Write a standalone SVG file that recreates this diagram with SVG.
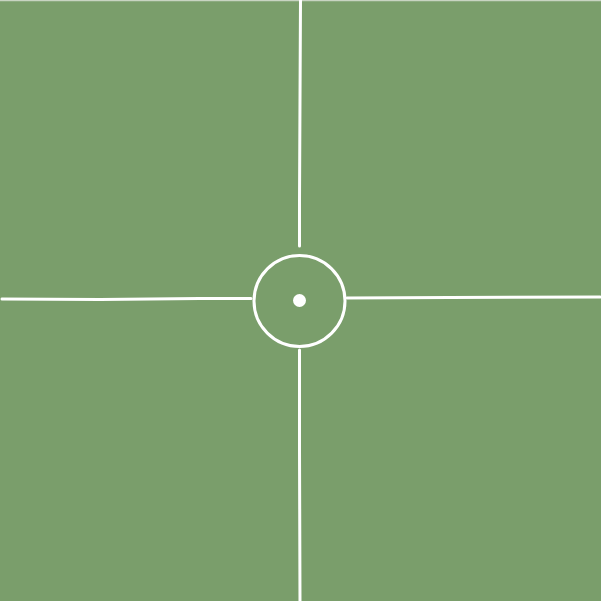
<svg xmlns="http://www.w3.org/2000/svg" width="601" height="601" viewBox="0 0 601 601">
<style>
.chalk{stroke:#ffffff;stroke-width:3;fill:none;stroke-linecap:round}
</style>
<rect x="0" y="0" width="601" height="601" fill="#7a9e6b"/>
<line x1="0" y1="0.5" x2="601" y2="0.5" stroke="#c8d4c2" stroke-width="1.5"/>
<g id="lines">
<path class="chalk" d="M300.5 0 L300 100 L299.5 200 L299.5 246"/>
<path class="chalk" d="M299.5 350 L299.5 450 L300 601"/>
<path class="chalk" d="M2 299 L100 299.5 L200 298.5 L251 298.5"/>
<path class="chalk" d="M347 298 L450 297.5 L600 297"/>
</g>
<g id="center-circle">
<circle class="chalk" cx="299.5" cy="301" r="45.5"/>
</g>
<g id="center-spot">
<circle cx="299.5" cy="300.5" r="6.5" fill="#ffffff"/>
</g>
</svg>
